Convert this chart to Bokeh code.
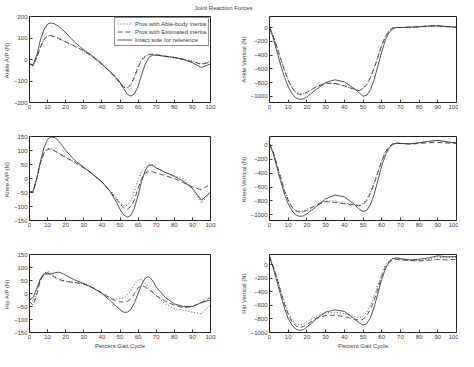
from bokeh.plotting import figure
from bokeh.layouts import column, row
from bokeh.models import Range1d, FixedTicker, Label
from bokeh.embed import file_html
from bokeh.resources import INLINE

pct = [0, 2, 4, 6, 8, 10, 12, 14, 16, 18, 20, 25, 30, 35, 40, 45, 48, 50, 52, 54, 56,
       58, 60, 62, 64, 66, 68, 70, 75, 80, 85, 90, 95, 100]

ankle_ap_able = [-20, -30, 10, 60, 95, 110, 112, 106, 99, 91, 83, 62, 40, 12, -22, -62, -90, -110,
                 -127, -132, -114, -78, -33, 2, 16, 23, 25, 22, 15, 8, 2, -8, -20, -10]
ankle_ap_est = [-20, -30, 8, 58, 94, 109, 111, 105, 98, 90, 82, 62, 40, 12, -22, -62, -90, -111,
                -129, -134, -117, -82, -37, -2, 14, 22, 25, 22, 15, 8, 1, -10, -22, -12]
ankle_ap_intact = [-20, -25, 20, 90, 140, 165, 170, 165, 155, 140, 125, 80, 45, 15, -20, -60, -85,
                   -105, -135, -162, -170, -160, -125, -70, -20, 10, 20, 20, 15, 10, 0, -15, -38, -20]

ankle_v_able = [0, -120, -280, -450, -620, -760, -870, -940, -970, -965, -940, -860, -810, -815, -850,
                -895, -915, -885, -825, -722, -582, -420, -258, -128, -40, -5, 0, 0, 5, 10, 25, 25, 10, 5]
ankle_v_est = [0, -125, -285, -455, -625, -765, -875, -945, -972, -968, -943, -862, -808, -812, -848,
               -893, -918, -890, -830, -728, -588, -428, -265, -133, -42, -6, 0, 0, 5, 10, 22, 24, 10, 5]
ankle_v_intact = [0, -150, -350, -550, -720, -860, -960, -1020, -1045, -1040, -1010, -900, -800, -760,
                  -790, -880, -950, -1000, -985, -905, -755, -555, -355, -180, -70, -20, 0, 0, 5, 10,
                  20, 25, 15, 5]

knee_ap_able = [-45, -50, 0, 55, 90, 107, 106, 99, 91, 83, 76, 58, 38, 15, -12, -45, -70, -88, -97,
                -95, -80, -45, -5, 25, 42, 48, 45, 38, 22, 10, 0, -35, -88, -50]
knee_ap_est = [-45, -50, 0, 55, 90, 105, 105, 98, 90, 82, 75, 58, 38, 15, -12, -50, -75, -90, -105,
               -110, -100, -75, -35, 0, 20, 25, 24, 20, 10, 0, -15, -30, -40, -20]
knee_ap_intact = [-50, -45, 0, 60, 110, 140, 148, 146, 135, 118, 100, 65, 40, 15, -12, -50, -85, -110,
                  -130, -138, -132, -105, -60, -10, 30, 48, 48, 38, 22, 8, -10, -35, -78, -48]

knee_v_able = [20, -100, -270, -460, -640, -780, -880, -930, -945, -940, -920, -850, -800, -800, -830,
               -850, -860, -835, -775, -675, -535, -375, -215, -90, -15, 20, 30, 25, 20, 35, 55, 65, 45, 30]
knee_v_est = [20, -100, -280, -470, -650, -790, -890, -940, -960, -955, -935, -860, -810, -820, -840,
              -860, -870, -850, -790, -690, -550, -390, -230, -100, -20, 20, 30, 25, 15, 25, 35, 40, 30, 30]
knee_v_intact = [20, -120, -320, -520, -700, -840, -940, -1000, -1020, -1015, -985, -880, -770, -715,
                 -740, -840, -920, -950, -935, -850, -700, -500, -300, -140, -40, 10, 30, 25, 20, 35, 55,
                 70, 50, 30]

hip_ap_able = [-20, -30, 5, 55, 78, 85, 78, 65, 58, 52, 48, 43, 37, 22, 2, -18, -22, -20, -15, -5, 10,
               35, 52, 55, 40, 20, 5, -10, -40, -58, -65, -72, -78, -45]
hip_ap_est = [-30, -45, -5, 50, 75, 80, 72, 62, 55, 50, 46, 42, 37, 22, 2, -20, -28, -32, -33, -30, -20,
              0, 22, 30, 25, 15, 5, -8, -30, -45, -55, -50, -35, -15]
hip_ap_intact = [-25, -15, 20, 55, 75, 75, 75, 80, 82, 78, 70, 52, 38, 22, 0, -30, -50, -62, -72, -72,
                 -62, -35, 0, 35, 60, 65, 50, 25, -15, -40, -50, -50, -35, -25]

hip_v_able = [120, -30, -190, -380, -550, -700, -810, -870, -890, -880, -840, -760, -710, -700, -720,
              -760, -780, -760, -700, -600, -460, -290, -130, 0, 60, 90, 95, 85, 65, 60, 80, 110, 100, 110]
hip_v_est = [120, -30, -200, -400, -580, -730, -840, -900, -925, -915, -880, -790, -750, -745, -765,
             -800, -820, -805, -750, -660, -520, -350, -180, -40, 40, 80, 80, 70, 60, 55, 65, 75, 70, 80]
hip_v_intact = [120, -50, -250, -450, -640, -790, -890, -950, -970, -960, -920, -800, -700, -665, -690,
                -790, -860, -890, -870, -780, -620, -420, -220, -60, 40, 90, 100, 90, 70, 80, 100, 130,
                115, 120]

x_ticks = [0, 10, 20, 30, 40, 50, 60, 70, 80, 90, 100]
ap200_ticks = [-200, -100, 0, 100, 200]
ap150_ticks = [-150, -100, -50, 0, 50, 100, 150]
vert_ticks = [-1000, -800, -600, -400, -200, 0]

series_labels = ["Pros with Able-body inertia", "Pros with Estimated inertia", "Intact side for reference"]
series_dash = ["1 2", "5 3", "solid"]

FONT = "Liberation Sans"
TXT = "#3a3a3a"


def panel(w, h, bl, br, bt, bb, yr, yticks, ylabel, series, xlabel=None, legend=False):
    p = figure(width=w, height=h, output_backend="svg", toolbar_location=None,
               x_range=Range1d(0, 100), y_range=Range1d(*yr),
               min_border_left=bl, min_border_right=br, min_border_top=bt, min_border_bottom=bb)
    p.background_fill_color = "white"
    p.border_fill_color = "white"
    p.outline_line_color = "#222222"
    p.outline_line_width = 1
    p.xgrid.visible = False
    p.ygrid.visible = False
    for ax, ticks in ((p.xaxis[0], x_ticks), (p.yaxis[0], yticks)):
        ax.ticker = FixedTicker(ticks=ticks)
        ax.major_tick_in = 3
        ax.major_tick_out = 0
        ax.minor_tick_line_color = None
        ax.axis_line_color = None
        ax.major_tick_line_color = "#333333"
        ax.major_label_text_font = FONT
        ax.major_label_text_font_size = "6px"
        ax.major_label_text_color = TXT
        ax.major_label_standoff = 2
        ax.axis_label_text_font = FONT
        ax.axis_label_text_font_size = "6px"
        ax.axis_label_text_font_style = "normal"
        ax.axis_label_text_color = TXT
        ax.axis_label_standoff = 1
    p.yaxis[0].axis_label = ylabel
    if xlabel:
        p.xaxis[0].axis_label = xlabel
    for (vals, lab, dash) in zip(series, series_labels, series_dash):
        kw = dict(line_color="#2a2a2a", line_width=0.8, line_dash=dash)
        if legend:
            kw["legend_label"] = lab
        p.line(pct, vals, **kw)
    if legend:
        lg = p.legend[0]
        lg.location = "top_right"
        lg.margin = 1
        lg.padding = 2
        lg.spacing = 1
        lg.glyph_width = 15
        lg.glyph_height = 7
        lg.label_height = 7
        lg.label_standoff = 3
        lg.label_text_font = FONT
        lg.label_text_font_size = "6px"
        lg.label_text_color = TXT
        lg.border_line_color = "#222222"
        lg.border_line_width = 1
        lg.background_fill_color = "white"
        lg.background_fill_alpha = 1
    return p


LW, RW = 232, 226
LB_L, LB_R = 23, 22
RB_L, RB_R = 37, 2

f1 = panel(LW, 116, LB_L, LB_R, 6, 24, (-200, 200), ap200_ticks, "Ankle  A/P (N)",
           [ankle_ap_able, ankle_ap_est, ankle_ap_intact], legend=True)
f2 = panel(RW, 116, RB_L, RB_R, 6, 24, (-1090, 160), vert_ticks, "Ankle Vertical (N)",
           [ankle_v_able, ankle_v_est, ankle_v_intact])
f3 = panel(LW, 118, LB_L, LB_R, 10, 24, (-150, 150), ap150_ticks, "Knee  A/P (N)",
           [knee_ap_able, knee_ap_est, knee_ap_intact])
f4 = panel(RW, 118, RB_L, RB_R, 10, 24, (-1080, 125), vert_ticks, "Knee  Vertical (N)",
           [knee_v_able, knee_v_est, knee_v_intact])
f5 = panel(LW, 107, LB_L, LB_R, 10, 16, (-150, 150), ap150_ticks, "Hip  A/P (N)",
           [hip_ap_able, hip_ap_est, hip_ap_intact], xlabel="Percent Gait Cycle")
f6 = panel(RW, 107, RB_L, RB_R, 10, 16, (-1000, 150), vert_ticks, "Hip Vertical (N)",
           [hip_v_able, hip_v_est, hip_v_intact], xlabel="Percent Gait Cycle")

t = figure(width=LW + RW, height=10, output_backend="svg", toolbar_location=None,
           x_range=Range1d(0, 1), y_range=Range1d(0, 1),
           min_border_left=0, min_border_right=0, min_border_top=0, min_border_bottom=0)
t.axis.visible = False
t.xgrid.visible = False
t.ygrid.visible = False
t.outline_line_color = None
t.add_layout(Label(x=223, y=5, x_units="screen", y_units="screen", text="Joint Reaction Forces",
                   text_font=FONT, text_font_size="6px", text_color=TXT,
                   text_align="center", text_baseline="middle"))

layout = column(t, row(f1, f2), row(f3, f4), row(f5, f6))
open("out.html", "w").write(file_html(layout, INLINE))
